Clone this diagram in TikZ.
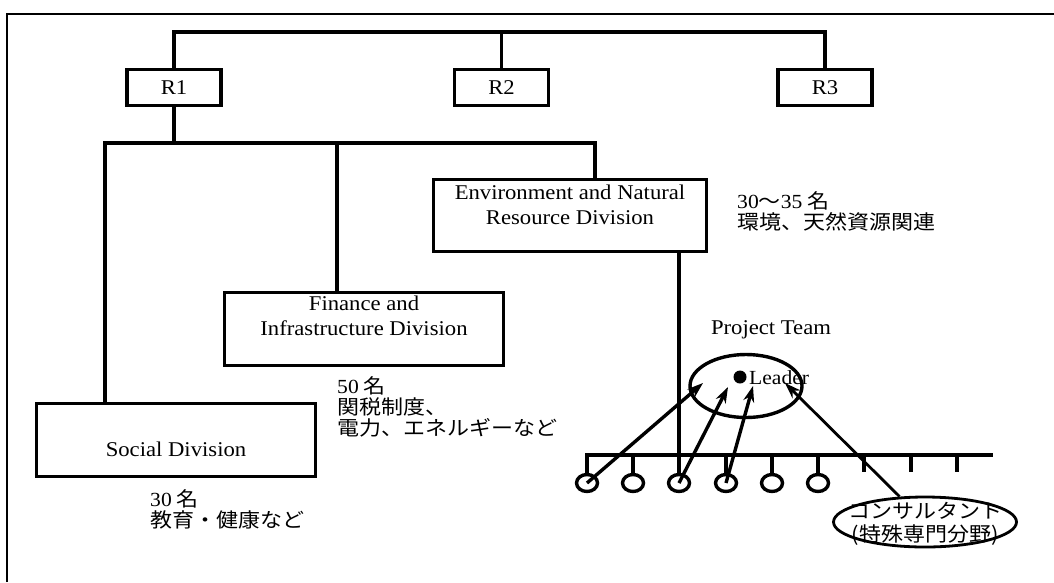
\documentclass[tikz,border=0pt]{standalone}
\usepackage{fontspec}
\setmainfont{Liberation Serif}[FakeStretch=1.08]
\newfontfamily\cjk{Noto Sans CJK JP}[FakeStretch=1.1]
\usetikzlibrary{arrows.meta,shapes.geometric}
\begin{document}
\begin{tikzpicture}[x=1pt,y=-1pt,line join=miter,
  box/.style={draw,line width=3.6pt,rectangle,inner sep=0pt},
  rbox/.style={box,minimum width=94pt,minimum height=36pt,font=\fontsize{21}{24}\selectfont},
  divbox/.style={box,minimum width=279pt,minimum height=73pt},
  etext/.style={inner sep=0pt,align=center,font=\fontsize{21}{25}\selectfont},
  jtext/.style={inner sep=0pt,align=left,anchor=west,font=\cjk\fontsize{20}{21}\selectfont},
  wire/.style={line width=3.6pt},
  member/.style={draw,line width=3.4pt,ellipse,inner sep=0pt,minimum width=21pt,minimum height=17pt},
  arr/.style={line width=3.4pt,-{Stealth[length=16pt,width=11pt]}}]
\useasboundingbox (0,0) rectangle (1054,582);
% frame
\draw[line width=2.4pt] (7,582) -- (7,14) -- (1054,14);
% top level
\node[rbox] (R1) at (174,87.5) {R1};
\node[rbox] (R2) at (501.5,87.5) {R2};
\node[rbox] (R3) at (825,87.5) {R3};
\coordinate (topbus) at (0,32);
\draw[wire] (R1.north) -- (R1.north |- topbus) -- (R3.north |- topbus) -- (R3.north);
\draw[wire] (R2.north) -- (R2.north |- topbus);
% divisions
\node[divbox] (soc) at (176,440) {};
\node[divbox] (fin) at (364,329) {};
\node[box,minimum width=273pt,minimum height=72pt] (env) at (570,215.5) {};
\node[etext] (socT) at (176,449) {Social Division};
\node[etext] (finT) at (364,315.5) {Finance and\\Infrastructure Division};
\node[etext] (envT) at (570,204.5) {Environment and Natural\\Resource Division};
\coordinate (bL) at (105,143);
\coordinate (bF) at (337,143);
\coordinate (bE) at (595,143);
\draw[wire] (R1.south) -- (R1.south |- bL);
\draw[wire] (bL |- soc.north) -- (bL) -- (bE) -- (bE |- env.north);
\draw[wire] (bF) -- (bF |- fin.north);
% notes
\node[jtext] (envN) at (737,211) {{\rmfamily 30}〜{\rmfamily 35} 名\\環境、天然資源関連};
\node[jtext] (finN) at (337,407) {{\rmfamily 50} 名\\関税制度、\\電力、エネルギーなど};
\node[jtext] (socN) at (150,509) {{\rmfamily 30} 名\\教育・健康など};
% team bus and members
\coordinate (tbL) at (585,455);
\coordinate (tbR) at (993,455);
\draw[wire] (tbL) -- (tbR);
\foreach \i/\x in {1/587,2/633,3/679,4/726,5/772,6/818}{
  \node[member] (c\i) at (\x,483) {};
  \draw[wire] (c\i.north) -- (c\i.north |- tbL);
}
\foreach \i/\x in {7/864,8/911,9/957}{
  \coordinate (t\i) at (\x,455);
  \draw[wire] (t\i) -- ++(0,17);
}
\draw[wire] (env.south -| c3) -- (c3.north);
% project team
\node[etext] (ptT) at (771,330) {Project Team};
\node[draw,line width=3.4pt,ellipse,inner sep=0pt,minimum width=112pt,minimum height=63pt] (pt) at (746,386) {};
\node[circle,fill,inner sep=0pt,minimum size=13pt] (ldot) at (740,377) {};
\node[inner sep=0pt,anchor=west,font=\fontsize{20}{24}\selectfont] (leader) at (749,378) {Leader};
% consultant
\node[draw,line width=2.8pt,ellipse,inner sep=0pt,minimum width=183pt,minimum height=50pt] (cons) at (925,522) {};
\node[inner sep=0pt,align=center,font=\cjk\fontsize{20}{23}\selectfont] (consT) at (925,524) {コンサルタント\\(特殊専門分野)};
% arrows
\coordinate (a1) at (703,383);
\coordinate (a2) at (728,387);
\coordinate (a3) at (753,386);
\coordinate (a4) at (785,383);
\draw[arr] (c1.center) -- (a1);
\draw[arr] (c3.center) -- (a2);
\draw[arr] (c4.center) -- (a3);
\draw[line width=2.8pt,-{Stealth[length=16pt,width=11pt]}] (cons.135) -- (a4);
\end{tikzpicture}
\end{document}
